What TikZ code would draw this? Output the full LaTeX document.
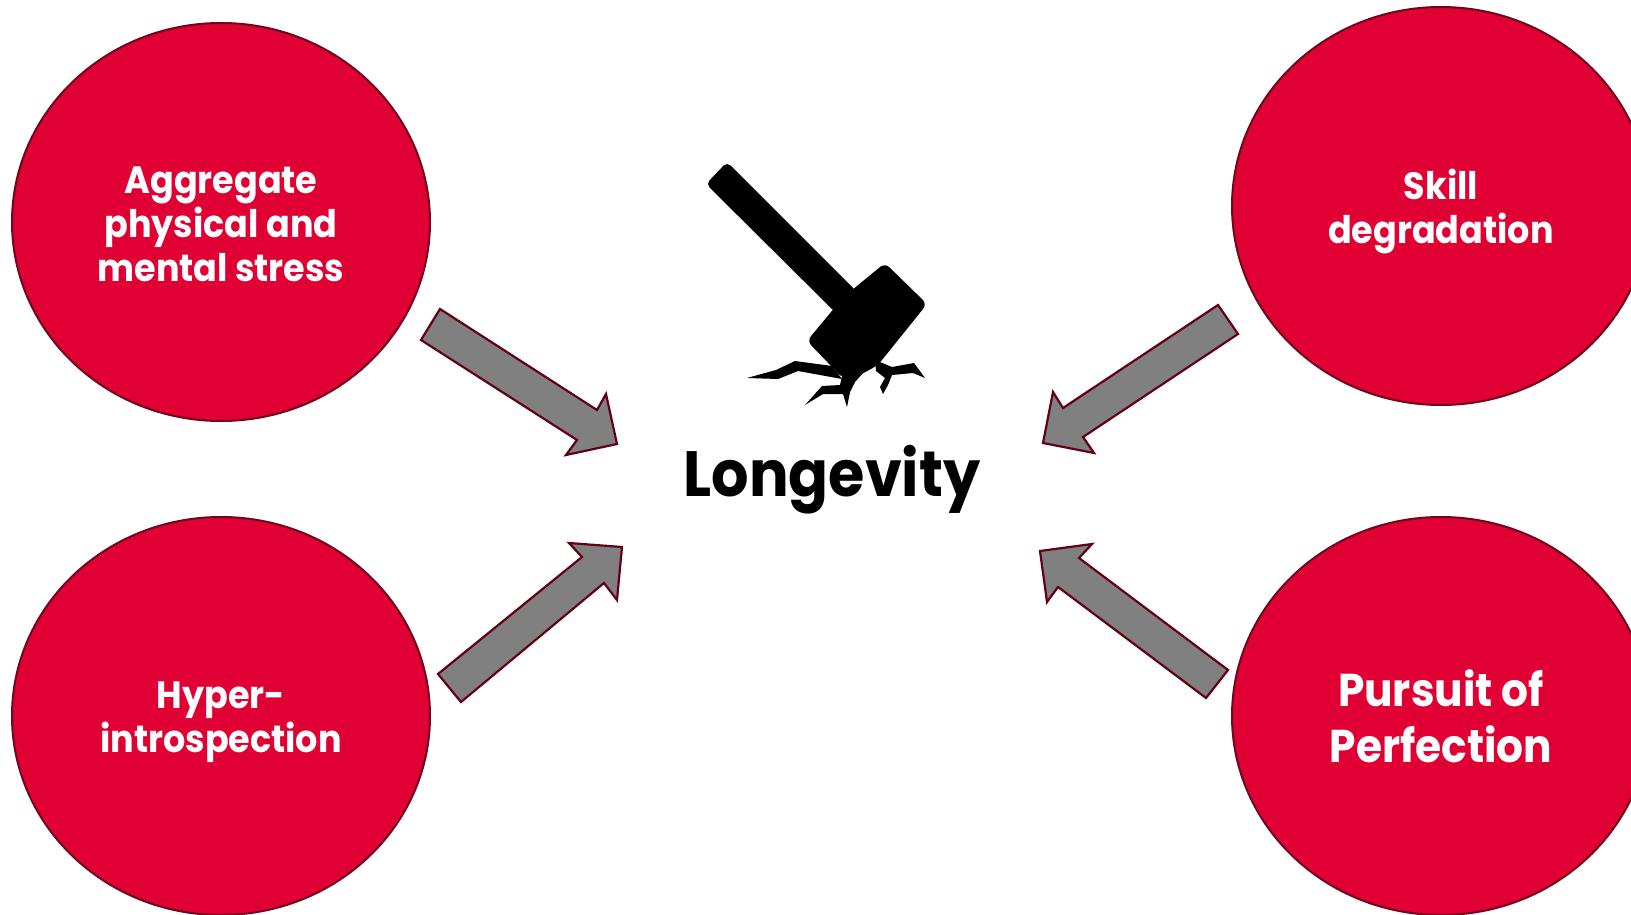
\documentclass[tikz,border=0pt]{standalone}
\usepackage{fontspec}
\setmainfont{Poppins}[FakeStretch=0.92]
\usetikzlibrary{shapes.geometric}
\definecolor{circred}{RGB}{225,0,52}
\definecolor{edgered}{RGB}{110,8,28}
\definecolor{arrgray}{RGB}{128,128,128}
\definecolor{arredge}{RGB}{100,0,20}
\tikzset{
  bubble/.style={ellipse, fill=circred, draw=edgered, line width=2pt,
    minimum width=418pt, minimum height=398pt, inner sep=0pt},
  bubtext/.style={text=white, align=center, inner sep=0pt,
    font=\bfseries\fontsize{38}{44}\selectfont},
  bigtext/.style={bubtext, font=\bfseries\fontsize{46}{56}\selectfont},
  blockarrow/.style={fill=arrgray, draw=arredge, line width=2.2pt, line join=miter},
  ink/.style={fill=black, draw=none}
}
\begin{document}
\begin{tikzpicture}[x=1pt,y=-1pt]
\useasboundingbox (0,0) rectangle (1631,915);
\fill[white] (0,0) rectangle (1631,915);
\begin{scope}
\clip (0,0) rectangle (1631,915);
\node[bubble] (agg) at (221,222) {};
\node[bubble] (skill) at (1441,206) {};
\node[bubble] (hyper) at (221,716) {};
\node[bubble] (perf) at (1441,716) {};
\end{scope}
\node[bubtext] (aggt) at ([yshift=-2pt]agg.center) {Aggregate\\physical and\\mental stress};
\node[bubtext] (skillt) at ([yshift=-6pt]skill.center) {Skill\\degradation};
\node[bubtext] (hypert) at ([yshift=-6pt]hyper.center) {Hyper-\\introspection};
\node[bigtext] (perft) at (perf.center) {Pursuit of\\Perfection};
\node[font=\bfseries\fontsize{64}{68}\selectfont, inner sep=0pt] (long) at (832,480) {Longevity};
% block arrows
\draw[blockarrow] (440,309) -- (597,410) -- (606,394) -- (617,444) -- (566,455) -- (577,440) -- (421,340) -- cycle;
\draw[blockarrow] (438,674) -- (582,557) -- (569,543) -- (622,547) -- (617,600) -- (604,583) -- (461,702) -- cycle;
\draw[blockarrow] (1218,305) -- (1063,408) -- (1053,392) -- (1043,443) -- (1094,453) -- (1083,437) -- (1238,334) -- cycle;
\draw[blockarrow] (1228,670) -- (1079,558) -- (1092,544) -- (1040,551) -- (1047,602) -- (1058,587) -- (1206,698) -- cycle;
% hammer icon
\fill[ink, rounded corners=5pt] (706,184) -- (727,162) -- (857,292) -- (836,313) -- cycle;
\fill[ink, rounded corners=6pt] (836,306) -- (807,341) -- (834,369) -- (842,378) -- (862,374) -- (878,365) -- (927,304) -- (885,263) -- (852,290) -- cycle;
\fill[ink] (832,366) -- (795,361) -- (776,370) -- (747,378) -- (778,379) -- (798,371) -- (842,379) -- cycle;
\fill[ink] (842,376) -- (840,385) -- (822,386) -- (805,405) -- (823,394) -- (843,394) -- (847,407) -- (850,392) -- (855,382) -- (864,372) -- cycle;
\fill[ink] (875,360) -- (892,367) -- (914,363) -- (925,378) -- (913,373) -- (892,375) -- (888,385) -- (883,394) -- (880,387) -- (885,378) -- (876,371) -- cycle;
\end{tikzpicture}
\end{document}
